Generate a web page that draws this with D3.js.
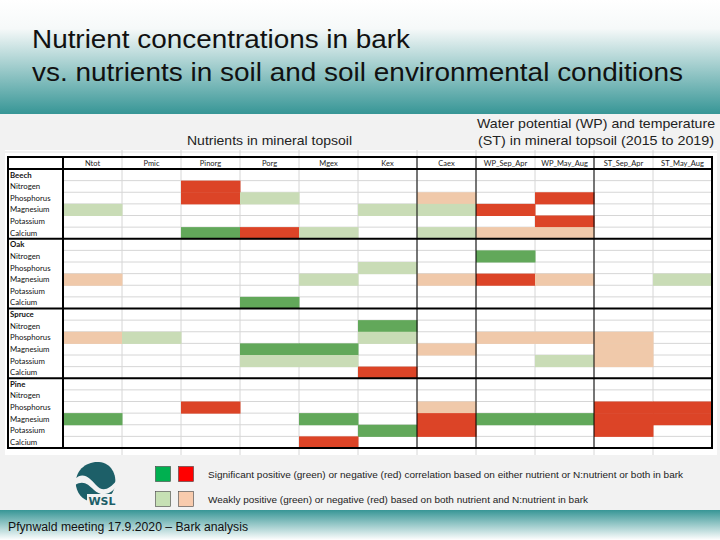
<!DOCTYPE html>
<html>
<head>
<meta charset="utf-8">
<script src="https://cdn.jsdelivr.net/npm/d3@7"></script>
<style>
body { margin: 0; }
svg { display: block; }
</style>
</head>
<body>
<div id="slide"></div>
<script>
var width = 720,
    height = 540;

// table columns and rows
var columns = ["Ntot", "Pmic", "Pinorg", "Porg", "Mgex", "Kex", "Caex",
               "WP_Sep_Apr", "WP_May_Aug", "ST_Sep_Apr", "ST_May_Aug"];
var species = ["Beech", "Oak", "Spruce", "Pine"];
var nutrients = ["Nitrogen", "Phosphorus", "Magnesium", "Potassium", "Calcium"];

// one string per nutrient row, one char per column
// G / R = significant pos / neg, g / r = weak pos / neg, . = nothing
var beech  = ["..R........", "..Rg..r.R..", "g....ggR...", "........R..", "..GRg.grr.."];
var oak    = [".......G...", ".....g.....", "r...g.rRr.g", "...........", "...G......."];
var spruce = [".....G.....", "rg...g.rrr.", "...GG.r..r.", "...gg...gr.", ".....R....."];
var pine   = ["...........", "..R...r..RR", "G...G.RGGRR", ".....GR..R.", "....R......"];
var codes = {Beech: beech, Oak: oak, Spruce: spruce, Pine: pine};

var cellColors = {G: "#62a85a", R: "#dc4427", g: "#c9dcb6", r: "#f0c9aa"};

var legendRows = [
  {colors: ["#00b050", "#ff0000"], len: 475, text: "Significant positive (green) or negative (red) correlation based on either nutrient or N:nutrient or both in bark"},
  {colors: ["#c6e0b4", "#f8cbad"], len: 380, text: "Weakly positive (green) or negative (red) based on both nutrient and N:nutrient in bark"}
];

var svg = d3.select("#slide").append("svg")
    .attr("width", width)
    .attr("height", height);

var defs = svg.append("defs");
var topGrad = defs.append("linearGradient").attr("id", "topGrad")
    .attr("x1", 0).attr("y1", 0).attr("x2", 0).attr("y2", 1);
topGrad.append("stop").attr("offset", "0%").attr("stop-color", "#ffffff");
topGrad.append("stop").attr("offset", "25%").attr("stop-color", "#f6f9f9");
topGrad.append("stop").attr("offset", "100%").attr("stop-color", "#379696");
var botGrad = defs.append("linearGradient").attr("id", "botGrad")
    .attr("x1", 0).attr("y1", 0).attr("x2", 0).attr("y2", 1);
botGrad.append("stop").attr("offset", "0%").attr("stop-color", "#379696");
botGrad.append("stop").attr("offset", "100%").attr("stop-color", "#ffffff");

// background bands
svg.append("rect").attr("width", width).attr("height", height).attr("fill", "#f2f2f2");
svg.append("rect").attr("width", width).attr("height", 114).attr("fill", "url(#topGrad)");
svg.append("rect").attr("y", 510).attr("width", width).attr("height", 30).attr("fill", "url(#botGrad)");

// title (the slide is slightly stretched sideways, so fix the text widths)
var title = svg.append("g")
    .attr("font-family", "Liberation Sans, Arial, sans-serif").attr("font-size", 26)
    .attr("fill", "#111");
title.append("text").attr("x", 32).attr("y", 48)
    .attr("textLength", 378).attr("lengthAdjust", "spacingAndGlyphs")
    .text("Nutrient concentrations in bark");
title.append("text").attr("x", 32).attr("y", 81)
    .attr("textLength", 651).attr("lengthAdjust", "spacingAndGlyphs")
    .text("vs. nutrients in soil and soil environmental conditions");

// subtitles
var sub = svg.append("g")
    .attr("font-family", "Liberation Sans, Arial, sans-serif")
    .attr("font-size", 13).attr("fill", "#222");
sub.append("text").attr("x", 187).attr("y", 145)
    .attr("textLength", 165).attr("lengthAdjust", "spacingAndGlyphs")
    .text("Nutrients in mineral topsoil");
sub.append("text").attr("x", 477).attr("y", 128)
    .attr("textLength", 238).attr("lengthAdjust", "spacingAndGlyphs")
    .text("Water potential (WP) and temperature");
sub.append("text").attr("x", 478).attr("y", 145)
    .attr("textLength", 236).attr("lengthAdjust", "spacingAndGlyphs")
    .text("(ST) in mineral topsoil (2015 to 2019)");

// table
var rows = [];
species.forEach(function(sp) {
  rows.push({key: sp, label: sp, head: true, sp: sp});
  nutrients.forEach(function(n, i) {
    rows.push({key: sp + "-" + n, label: n, head: false, sp: sp, idx: i});
  });
});

var x = d3.scaleBand().domain(columns).range([63, 712]);
var y = d3.scaleBand().domain(rows.map(function(d) { return d.key; })).range([169, 448]);
var headTop = 157, labelLeft = 8;

var table = svg.append("g");
table.append("rect").attr("x", 5).attr("y", 150).attr("width", 712).attr("height", 305)
    .attr("fill", "#ffffff");

// excel gridlines
table.append("line").attr("x1", 5).attr("x2", 717).attr("y1", 152).attr("y2", 152)
    .attr("stroke", "#e2e2e2");
table.selectAll(".vgrid")
    .data(columns.slice(1))
    .enter().append("line")
    .attr("x1", function(d) { return x(d); }).attr("x2", function(d) { return x(d); })
    .attr("y1", 150).attr("y2", 455)
    .attr("stroke", "#d6d6d6").attr("stroke-width", 1);
table.selectAll(".hgrid")
    .data(rows.slice(1))
    .enter().append("line")
    .attr("x1", x.range()[0]).attr("x2", x.range()[1])
    .attr("y1", function(d) { return y(d.key); }).attr("y2", function(d) { return y(d.key); })
    .attr("stroke", "#d6d6d6").attr("stroke-width", 1);

// coloured cells
var cells = [];
rows.forEach(function(r) {
  if (r.head) return;
  codes[r.sp][r.idx].split("").forEach(function(c, j) {
    if (c !== ".") cells.push({row: r.key, col: columns[j], code: c});
  });
});
table.selectAll(".cell")
    .data(cells)
    .enter().append("rect")
    .attr("x", function(d) { return x(d.col); })
    .attr("y", function(d) { return y(d.row); })
    .attr("width", x.bandwidth() + 0.5)
    .attr("height", y.bandwidth() + 0.5)
    .attr("fill", function(d) { return cellColors[d.code]; });

// header labels
table.selectAll(".colLabel")
    .data(columns)
    .enter().append("text")
    .attr("x", function(d) { return x(d) + x.bandwidth() / 2; })
    .attr("y", 166)
    .attr("text-anchor", "middle")
    .attr("font-family", "Lato, Open Sans, sans-serif").attr("font-size", 7.5)
    .attr("fill", "#222")
    .text(function(d) { return d; });

// row labels
table.selectAll(".rowLabel")
    .data(rows)
    .enter().append("text")
    .attr("x", labelLeft + 2)
    .attr("y", function(d) { return y(d.key) + y.bandwidth() / 2 + 2.8; })
    .attr("font-family", "Lato, Open Sans, sans-serif").attr("font-size", 7.8)
    .attr("font-weight", function(d) { return d.head ? "bold" : "normal"; })
    .attr("fill", "#111")
    .text(function(d) { return d.label; });

// thin black separators between column groups
["Caex", "WP_Sep_Apr", "ST_Sep_Apr"].forEach(function(c) {
  table.append("line")
      .attr("x1", x(c)).attr("x2", x(c)).attr("y1", headTop).attr("y2", 448)
      .attr("stroke", "#000").attr("stroke-width", 1);
});

// bold borders
var bold = table.append("g").attr("stroke", "#000").attr("stroke-width", 2);
[labelLeft, 63, 712].forEach(function(xx) {
  bold.append("line").attr("x1", xx).attr("x2", xx).attr("y1", headTop).attr("y2", 448);
});
var hb = [headTop, 169, 448].concat(species.slice(1).map(function(sp) { return y(sp); }));
hb.forEach(function(yy) {
  bold.append("line").attr("x1", labelLeft - 1).attr("x2", 713).attr("y1", yy).attr("y2", yy);
});

// legend
var legend = svg.append("g");
legendRows.forEach(function(lr, i) {
  var ly = 466 + i * 25;
  lr.colors.forEach(function(col, j) {
    legend.append("rect")
        .attr("x", 155.5 + j * 23).attr("y", ly + 0.5)
        .attr("width", 15).attr("height", 15)
        .attr("fill", col).attr("stroke", "#444").attr("stroke-width", 0.6);
  });
  legend.append("text")
      .attr("x", 208).attr("y", ly + 12)
      .attr("font-family", "Liberation Sans, Arial, sans-serif").attr("font-size", 9)
      .attr("textLength", lr.len).attr("lengthAdjust", "spacingAndGlyphs")
      .attr("fill", "#222").text(lr.text);
});

// WSL logo
var logo = svg.append("g").attr("transform", "translate(95,480)");
logo.append("path")
    .attr("d", "M-19,6 C-21,-10 -8,-19 4,-18 C16,-17 22,-6 20,6 C18,16 10,22 0,22 C-10,22 -17,16 -19,6 Z")
    .attr("fill", "#1d5f68");
logo.append("path")
    .attr("d", "M-20,-1 C-12,-9 -5,-2 1,5 C7,12 14,10 21,1 L21,7 C14,16 5,16 -1,10 C-7,4 -12,0 -20,5 Z")
    .attr("fill", "#f2f2f2");
logo.append("rect").attr("x", -8).attr("y", 14).attr("width", 28).attr("height", 12)
    .attr("fill", "#f2f2f2");
logo.append("text").attr("x", 7).attr("y", 25)
    .attr("text-anchor", "middle")
    .attr("font-family", "DejaVu Sans, sans-serif").attr("font-weight", "bold")
    .attr("font-size", 11).attr("fill", "#1d5f68").text("WSL");

// footer
svg.append("text").attr("x", 8).attr("y", 531)
    .attr("font-family", "Liberation Sans, Arial, sans-serif").attr("font-size", 12)
    .attr("textLength", 240).attr("lengthAdjust", "spacingAndGlyphs")
    .attr("fill", "#111").text("Pfynwald meeting 17.9.2020 \u2013 Bark analysis");
</script>
</body>
</html>
